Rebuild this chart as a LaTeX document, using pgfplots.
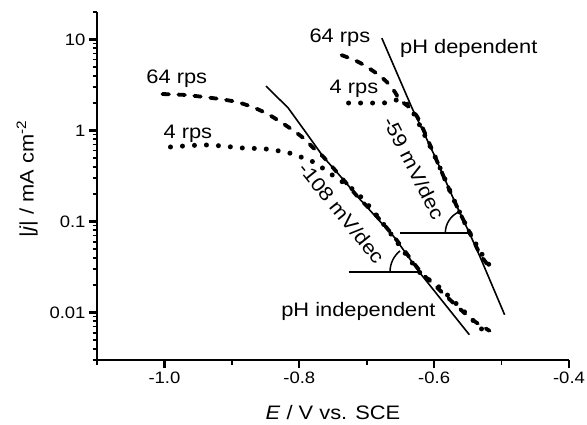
\documentclass[border=0pt]{standalone}
\usepackage{fontspec}
\setmainfont{Liberation Sans}[FakeStretch=1.12]
\usepackage{pgfplots}
\pgfplotsset{compat=1.18}
\newcommand{\annfont}{\fontsize{19.5bp}{23bp}\selectfont}
\begin{document}
\begin{tikzpicture}
\begin{axis}[
 name=ax,
 scale only axis, width=472bp, height=348bp,
 xmin=-1.1, xmax=-0.4, ymode=log, ymin=0.003, ymax=20,
 axis lines=left, axis line style={-, line width=2.8bp},
 tick align=outside,
 major tick length=8bp, minor tick length=4.5bp,
 major tick style={black, line width=2.4bp},
 minor tick style={black, line width=1.8bp},
 xtick={-1,-0.8,-0.6,-0.4}, xticklabels={-1.0,-0.8,-0.6,-0.4},
 minor xtick={-1.1,-0.9,-0.7,-0.5},
 ytick={0.01,0.1,1,10}, yticklabels={0.01,0.1,1,10},
 minor ytick={0.003,0.004,0.005,0.006,0.007,0.008,0.009,0.02,0.03,0.04,0.05,0.06,0.07,0.08,0.09,0.2,0.3,0.4,0.5,0.6,0.7,0.8,0.9,2,3,4,5,6,7,8,9,20},
 tick label style={font=\fontsize{16.5bp}{19bp}\selectfont},
 label style={font=\fontsize{19.5bp}{22bp}\selectfont},
 xlabel={\textit{E} / V vs. SCE},
 ylabel={|\textit{j}| / mA cm\textsuperscript{-2}},
 xlabel style={at={(axis description cs:0.5,-0.17)}, anchor=base},
 ylabel style={at={(axis description cs:-0.118,0.52)}, anchor=south},
 clip=false,
]
% pH independent solid line
\addplot[black, line width=1.6bp] coordinates {
(-0.8493,3.07) (-0.8164,1.762) (-0.7896,0.9364) (-0.7642,0.5106) (-0.7343,0.2856)
(-0.7119,0.1812) (-0.6582,0.06597) (-0.6224,0.02794) (-0.5478,0.005686)};
% pH dependent solid line
\addplot[black, line width=1.6bp] coordinates {
(-0.6776,10.33) (-0.6328,1.762) (-0.5985,0.5106) (-0.5687,0.1597) (-0.5478,0.0748)
(-0.5313,0.0398) (-0.4955,0.00943)};
% left 64 rps
\addplot[black, line width=3.8bp, dash pattern=on 6.5bp off 9.5bp, line cap=round, smooth] coordinates {
(-1.0030,2.51) (-0.9687,2.45) (-0.9418,2.33) (-0.9179,2.21) (-0.8925,2.05) (-0.8657,1.762)
(-0.8418,1.439) (-0.8164,1.090) (-0.7940,0.825) (-0.7791,0.641) (-0.7642,0.5106)
(-0.7343,0.2856) (-0.7119,0.1812) (-0.6881,0.1209) (-0.6582,0.06597) (-0.6224,0.02938)
(-0.6000,0.0201) (-0.5701,0.01245) (-0.5433,0.00831) (-0.5179,0.00629)};
% left 4 rps
\addplot[black, line width=5bp, dash pattern=on 0bp off 12bp, line cap=round, smooth] coordinates {
(-0.9910,0.6575) (-0.9373,0.6916) (-0.8836,0.6410) (-0.8493,0.6250) (-0.8149,0.5649)
(-0.7940,0.4980) (-0.7761,0.4387) (-0.7597,0.3584) (-0.7403,0.2856) (-0.7194,0.2218)
(-0.7045,0.1722) (-0.6881,0.1241) (-0.6597,0.06597) (-0.6209,0.02724) (-0.6000,0.02116)
(-0.5836,0.01643) (-0.5701,0.01309) (-0.5507,0.00943) (-0.5284,0.00645) (-0.5164,0.00554)};
% right 64 rps
\addplot[black, line width=3.8bp, dash pattern=on 6.5bp off 9.5bp, line cap=round, smooth] coordinates {
(-0.7373,6.72) (-0.7119,5.63) (-0.6881,4.37) (-0.6701,3.40) (-0.6582,2.64) (-0.6507,2.16)
(-0.6358,1.762) (-0.6224,1.301) (-0.5985,0.5106) (-0.5687,0.1597) (-0.5478,0.0768)
(-0.5313,0.04292) (-0.5164,0.03091)};
% right 4 rps
\addplot[black, line width=5bp, dash pattern=on 0bp off 12bp, line cap=round, smooth] coordinates {
(-0.7269,2.00) (-0.6925,2.00) (-0.6746,2.00) (-0.6552,2.16) (-0.6403,1.949) (-0.6299,1.514)
(-0.5985,0.5106) (-0.5687,0.1597) (-0.5478,0.0768) (-0.5313,0.0463) (-0.5164,0.0317)};
% angle markers
\addplot[black, line width=1.6bp] coordinates {(-0.6507,0.0748) (-0.5478,0.0748)};
\addplot[black, line width=1.6bp] coordinates {(-0.7269,0.02794) (-0.6224,0.02794)};
\draw[line width=1.5bp] (axis cs:-0.5493,0.0748) ++(180:23bp) arc[start angle=180, end angle=114, radius=23bp];
\draw[line width=1.5bp] (axis cs:-0.6254,0.02794) ++(180:27bp) arc[start angle=180, end angle=129, radius=27bp];
% labels
\node[anchor=base west, font=\annfont, inner sep=0] at (axis cs:-1.0269,3.31) {64 rps};
\node[anchor=base west, font=\annfont, inner sep=0] at (axis cs:-1.0015,0.825) {4 rps};
\node[anchor=base west, font=\annfont, inner sep=0] at (axis cs:-0.7851,9.33) {64 rps};
\node[anchor=base west, font=\annfont, inner sep=0] at (axis cs:-0.7552,2.573) {4 rps};
\node[anchor=base west, font=\annfont, inner sep=0] at (axis cs:-0.6507,7.07) {pH dependent};
\node[anchor=base west, font=\annfont, inner sep=0] at (axis cs:-0.8269,0.008963) {pH independent};
\node[rotate=-63, font=\annfont, inner sep=0] at (axis cs:-0.6299,0.3867) {-59 mV/dec};
\node[rotate=-51, font=\annfont, inner sep=0] at (axis cs:-0.7373,0.1241) {-108 mV/dec};
\end{axis}
\pgfresetboundingbox
\path ([shift={(-97bp,-64bp)}]ax.south west) rectangle ([shift={(18bp,12bp)}]ax.north east);
\end{tikzpicture}
\end{document}
